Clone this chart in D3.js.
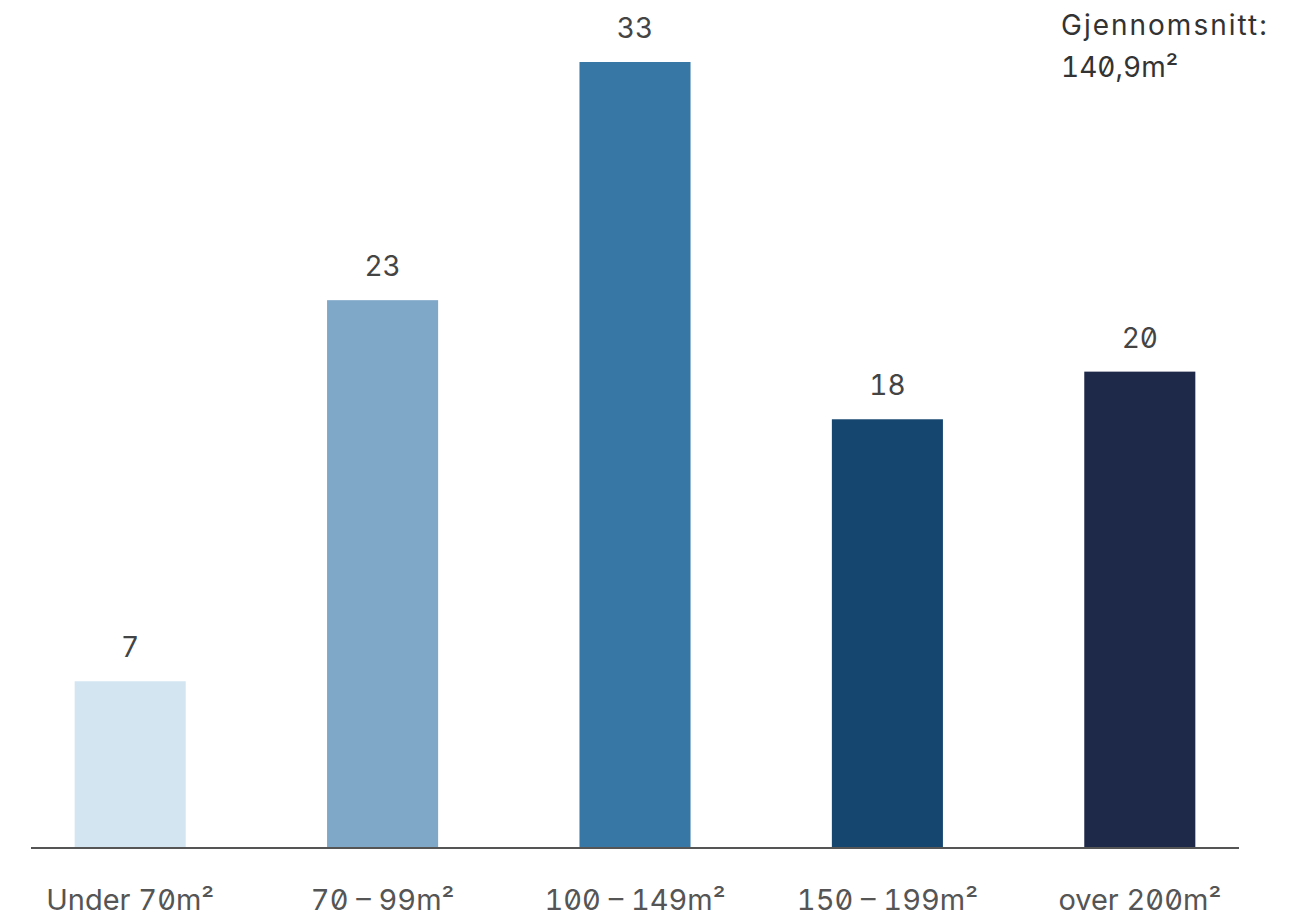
<!DOCTYPE html>
<html>
<head>
<meta charset="utf-8">
<script src="https://cdn.jsdelivr.net/npm/d3@7/dist/d3.min.js"></script>
<style>
  html, body { margin: 0; padding: 0; background: #fff; }
  svg text { font-family: Inter, "Noto Sans", sans-serif; font-feature-settings: "zero" 1, "tnum" 1; }
</style>
</head>
<body>
<svg id="chart" width="1300" height="918"></svg>
<script>
// Boligstørrelse: andel (%) per størrelsesgruppe
const categories = ["Under 70m²", "70 – 99m²", "100 – 149m²", "150 – 199m²", "over 200m²"];
const values = [7, 23, 33, 18, 20];
const colors = ["#d2e5f1", "#7ea7c8", "#3777a6", "#154670", "#1e2848"];
const averageLines = ["Gjennomsnitt:", "140,9m²"];

const svg = d3.select("#chart");

const x = d3.scaleBand()
  .domain(categories)
  .range([4, 1266])
  .paddingInner(0.56)
  .paddingOuter(0.28);

const y = d3.scaleLinear()
  .domain([0, 33])
  .range([848, 62]);

// Bars
svg.append("g")
  .selectAll("rect")
  .data(values)
  .join("rect")
  .attr("x", (d, i) => x(categories[i]))
  .attr("y", d => y(d))
  .attr("width", x.bandwidth())
  .attr("height", d => y(0) - y(d))
  .attr("fill", (d, i) => colors[i]);

// Value labels
svg.append("g")
  .selectAll("text")
  .data(values)
  .join("text")
  .attr("x", (d, i) => x(categories[i]) + x.bandwidth() / 2)
  .attr("y", d => y(d) - 24)
  .attr("text-anchor", "middle")
  .attr("font-size", 28)
  .attr("fill", "#444")
  .text(d => d);

// Baseline axis with category labels
const axis = svg.append("g")
  .attr("transform", `translate(0,${y(0)})`)
  .call(d3.axisBottom(x).tickSize(0).tickPadding(0));
axis.select(".domain").remove();
axis.selectAll("text")
  .attr("dy", null)
  .attr("y", 62)
  .attr("font-size", 29)
  .attr("fill", "#555")
  .attr("font-family", "Inter, 'Noto Sans', sans-serif");

svg.append("line")
  .attr("x1", 31).attr("x2", 1239)
  .attr("y1", y(0)).attr("y2", y(0))
  .attr("stroke", "#555")
  .attr("stroke-width", 2);

// Average annotation
svg.append("g")
  .selectAll("text")
  .data(averageLines)
  .join("text")
  .attr("x", 1061)
  .attr("y", (d, i) => 35 + i * 42)
  .attr("font-size", 28)
  .attr("letter-spacing", (d, i) => i === 0 ? 2 : 0)
  .attr("fill", "#333")
  .text(d => d);
</script>
</body>
</html>
